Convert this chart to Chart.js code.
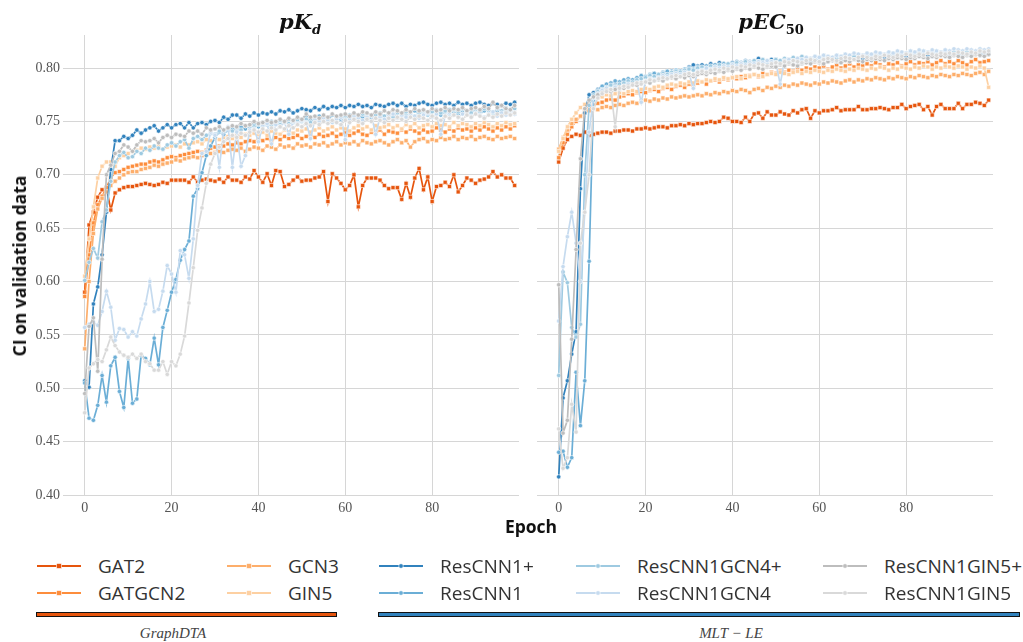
<!DOCTYPE html>
<html><head><meta charset="utf-8">
<script src="https://cdn.jsdelivr.net/npm/chart.js@4.4.1/dist/chart.umd.min.js"></script>
<style>
body{margin:0;width:1023px;height:642px;background:#fff;position:relative;overflow:hidden;font-family:"Open Sans",sans-serif}
.abs{position:absolute}
.ttl{font:bold italic 21px "DejaVu Serif",serif;color:#111;white-space:nowrap;transform:translateX(-50%)}
.ttl sub{font-size:13px}
.leg{position:absolute;display:flex;align-items:center;font-size:19px;color:#333;white-space:nowrap;height:24px}
.grp{position:absolute;font:italic 15px "Liberation Serif",serif;color:#444;transform:translateX(-50%);white-space:nowrap}
</style></head><body>
<canvas id="c1" class="abs" width="530" height="530" style="left:0;top:0"></canvas>
<canvas id="c2" class="abs" width="480" height="530" style="left:527px;top:0"></canvas>
<div class="abs ttl" style="left:300px;top:9px">pK<sub>d</sub></div>
<div class="abs ttl" style="left:771px;top:9px">pEC<sub style="font-style:normal">50</sub></div>
<div class="abs" style="left:19px;top:266px;transform:translate(-50%,-50%) rotate(-90deg);font:bold 17.5px 'Open Sans';color:#111;white-space:nowrap">CI on validation data</div>
<div class="abs" style="left:531px;top:526px;transform:translate(-50%,-50%);font:bold 17.5px 'Open Sans';color:#111">Epoch</div>
<div id="legend"></div>
<div class="abs" style="left:36px;top:612px;width:299px;height:3px;background:#e6550d;border:1px solid #111"></div>
<div class="abs" style="left:378px;top:612px;width:640px;height:3px;background:#3182bd;border:1px solid #111"></div>
<div class="grp" style="left:173px;top:625px">GraphDTA</div>
<div class="grp" style="left:731px;top:625px">MLT − LE</div>
<script>
const EPOCHS = Array.from({length:100},(_,i)=>i);
const SERIES = ["GAT2","GATGCN2","GCN3","GIN5","ResCNN1+","ResCNN1","ResCNN1GCN4+","ResCNN1GCN4","ResCNN1GIN5+","ResCNN1GIN5"];
const COLORS = ["#e6550d","#fd8d3c","#fdae6b","#fdd0a2","#3182bd","#6baed6","#9ecae1","#c6dbef","#bdbdbd","#d9d9d9"];
const MARKERS = ["rect","rect","rect","rect","circle","circle","circle","circle","circle","circle"];
const Y_TICKS = [0.40,0.45,0.50,0.55,0.60,0.65,0.70,0.75,0.80];
const X_TICKS = [0,20,40,60,80];

// ---- pKd ----
const PKD_GAT2 = [0.590,0.653,0.665,0.679,0.686,0.688,0.667,0.683,0.686,0.688,
0.689,0.689,0.690,0.691,0.692,0.691,0.690,0.691,0.693,0.692,
0.695,0.695,0.695,0.695,0.693,0.698,0.693,0.695,0.696,0.695,
0.694,0.696,0.693,0.698,0.695,0.695,0.693,0.698,0.696,0.704,
0.698,0.693,0.701,0.690,0.704,0.703,0.689,0.691,0.695,0.698,
0.694,0.695,0.695,0.697,0.698,0.703,0.675,0.701,0.697,0.692,
0.686,0.690,0.700,0.670,0.690,0.697,0.697,0.697,0.695,0.690,
0.687,0.688,0.688,0.677,0.692,0.679,0.697,0.706,0.686,0.698,
0.675,0.689,0.690,0.693,0.689,0.700,0.684,0.690,0.697,0.695,
0.692,0.695,0.696,0.698,0.703,0.698,0.700,0.697,0.697,0.690];
const PKD_GATGCN2 = [0.586,0.625,0.655,0.672,0.680,0.688,0.697,0.702,0.703,0.705,
0.707,0.708,0.709,0.710,0.710,0.712,0.713,0.712,0.714,0.716,
0.717,0.716,0.718,0.719,0.720,0.721,0.722,0.721,0.723,0.725,
0.726,0.727,0.727,0.729,0.728,0.730,0.729,0.731,0.732,0.731,
0.733,0.732,0.734,0.731,0.735,0.733,0.736,0.734,0.735,0.737,
0.734,0.736,0.737,0.735,0.738,0.736,0.737,0.739,0.736,0.738,
0.740,0.737,0.739,0.741,0.738,0.737,0.740,0.739,0.742,0.738,
0.741,0.740,0.739,0.742,0.740,0.743,0.741,0.739,0.742,0.740,
0.741,0.744,0.742,0.740,0.743,0.741,0.744,0.742,0.743,0.741,
0.744,0.742,0.745,0.743,0.741,0.744,0.742,0.745,0.743,0.746];
const PKD_GCN3 = [0.537,0.600,0.645,0.668,0.678,0.684,0.690,0.694,0.697,0.700,
0.702,0.703,0.703,0.705,0.706,0.707,0.709,0.708,0.710,0.711,
0.712,0.714,0.713,0.715,0.716,0.717,0.716,0.718,0.719,0.720,
0.721,0.722,0.721,0.723,0.724,0.723,0.725,0.722,0.724,0.726,
0.725,0.723,0.727,0.726,0.724,0.728,0.726,0.727,0.725,0.729,
0.727,0.728,0.726,0.729,0.728,0.730,0.727,0.729,0.731,0.728,
0.730,0.729,0.731,0.728,0.732,0.730,0.729,0.731,0.732,0.730,
0.728,0.731,0.733,0.730,0.732,0.726,0.731,0.733,0.734,0.731,
0.733,0.732,0.735,0.733,0.734,0.736,0.733,0.735,0.734,0.736,
0.733,0.735,0.736,0.734,0.733,0.736,0.734,0.735,0.736,0.734];
const PKD_GIN5 = [0.605,0.640,0.670,0.697,0.708,0.712,0.712,0.708,0.716,0.718,
0.720,0.722,0.723,0.725,0.724,0.726,0.725,0.727,0.724,0.726,
0.727,0.728,0.726,0.729,0.728,0.730,0.731,0.729,0.733,0.732,
0.734,0.733,0.735,0.736,0.734,0.737,0.735,0.738,0.737,0.739,
0.738,0.740,0.737,0.741,0.739,0.738,0.742,0.740,0.739,0.742,
0.741,0.743,0.740,0.742,0.744,0.741,0.743,0.745,0.742,0.744,
0.743,0.741,0.744,0.746,0.743,0.745,0.742,0.746,0.744,0.745,
0.747,0.744,0.746,0.743,0.747,0.745,0.748,0.744,0.746,0.747,
0.745,0.748,0.746,0.747,0.745,0.749,0.746,0.748,0.747,0.745,
0.748,0.746,0.749,0.747,0.745,0.748,0.746,0.749,0.747,0.748];
const PKD_RC = [0.507,0.501,0.579,0.595,0.625,0.665,0.705,0.732,0.732,0.736,
0.734,0.737,0.742,0.739,0.742,0.744,0.746,0.741,0.744,0.747,
0.744,0.747,0.748,0.744,0.749,0.744,0.748,0.749,0.747,0.750,
0.751,0.749,0.754,0.752,0.756,0.756,0.753,0.757,0.755,0.758,
0.756,0.758,0.757,0.759,0.757,0.760,0.759,0.761,0.758,0.760,
0.762,0.761,0.760,0.763,0.761,0.764,0.762,0.764,0.763,0.765,
0.763,0.765,0.764,0.766,0.764,0.765,0.763,0.766,0.765,0.764,
0.766,0.767,0.765,0.767,0.764,0.766,0.765,0.767,0.768,0.766,
0.765,0.767,0.768,0.766,0.767,0.765,0.768,0.766,0.767,0.765,
0.767,0.768,0.766,0.765,0.767,0.766,0.765,0.767,0.766,0.768];
const PKD_RC_NP = [0.505,0.472,0.470,0.484,0.512,0.487,0.521,0.529,0.497,0.482,
0.528,0.486,0.490,0.531,0.528,0.522,0.547,0.522,0.557,0.573,
0.590,0.602,0.620,0.630,0.638,0.680,0.687,0.702,0.718,0.727,
0.735,0.740,0.738,0.742,0.744,0.741,0.745,0.743,0.746,0.748,
0.745,0.749,0.747,0.750,0.748,0.751,0.749,0.752,0.750,0.753,
0.751,0.754,0.752,0.750,0.755,0.753,0.751,0.756,0.754,0.752,
0.756,0.754,0.757,0.755,0.753,0.757,0.755,0.758,0.756,0.754,
0.758,0.756,0.759,0.757,0.755,0.758,0.760,0.757,0.759,0.756,
0.760,0.758,0.756,0.759,0.761,0.758,0.757,0.760,0.758,0.761,
0.759,0.757,0.760,0.762,0.758,0.760,0.756,0.759,0.761,0.757];
const PKD_RC_GCN4P = [0.601,0.618,0.631,0.622,0.656,0.667,0.694,0.712,0.718,0.721,
0.716,0.717,0.722,0.720,0.725,0.723,0.727,0.725,0.724,0.728,
0.730,0.727,0.731,0.733,0.725,0.734,0.736,0.733,0.737,0.739,
0.738,0.741,0.740,0.743,0.741,0.744,0.742,0.746,0.744,0.745,
0.747,0.745,0.748,0.746,0.749,0.747,0.750,0.748,0.749,0.751,
0.750,0.752,0.749,0.753,0.751,0.754,0.752,0.750,0.753,0.755,
0.752,0.756,0.754,0.752,0.757,0.755,0.753,0.756,0.758,0.755,
0.757,0.754,0.758,0.756,0.759,0.757,0.755,0.758,0.760,0.757,
0.759,0.761,0.758,0.760,0.757,0.761,0.759,0.762,0.760,0.758,
0.761,0.759,0.762,0.760,0.758,0.762,0.760,0.763,0.761,0.762];
const PKD_RC_GCN4 = [0.557,0.560,0.562,0.559,0.572,0.591,0.576,0.545,0.556,0.555,
0.548,0.553,0.549,0.565,0.579,0.600,0.572,0.574,0.591,0.615,
0.607,0.590,0.629,0.625,0.603,0.640,0.690,0.720,0.722,0.740,
0.737,0.707,0.742,0.745,0.707,0.740,0.708,0.718,0.742,0.743,
0.731,0.746,0.748,0.729,0.747,0.745,0.749,0.738,0.750,0.748,
0.751,0.749,0.734,0.752,0.750,0.753,0.751,0.749,0.752,0.754,
0.733,0.752,0.755,0.753,0.751,0.754,0.756,0.738,0.754,0.752,
0.755,0.757,0.753,0.756,0.754,0.757,0.755,0.753,0.756,0.758,
0.754,0.757,0.738,0.755,0.758,0.756,0.754,0.757,0.759,0.755,
0.758,0.756,0.754,0.757,0.759,0.755,0.758,0.756,0.760,0.757];
const PKD_RC_GIN5P = [0.495,0.558,0.566,0.516,0.621,0.700,0.709,0.720,0.722,0.728,
0.726,0.722,0.728,0.732,0.731,0.732,0.734,0.730,0.735,0.737,
0.735,0.738,0.737,0.736,0.741,0.739,0.741,0.738,0.744,0.742,
0.743,0.745,0.742,0.744,0.746,0.745,0.748,0.746,0.747,0.750,
0.748,0.749,0.751,0.749,0.750,0.752,0.750,0.753,0.751,0.754,
0.752,0.757,0.754,0.755,0.753,0.756,0.754,0.757,0.755,0.756,
0.757,0.755,0.758,0.756,0.759,0.758,0.756,0.759,0.757,0.760,
0.758,0.761,0.760,0.758,0.761,0.759,0.762,0.760,0.761,0.759,
0.762,0.760,0.761,0.763,0.760,0.762,0.761,0.763,0.760,0.762,
0.763,0.761,0.764,0.762,0.768,0.763,0.765,0.762,0.761,0.765];
const PKD_RC_GIN5 = [0.477,0.519,0.523,0.527,0.525,0.536,0.548,0.540,0.534,0.531,
0.529,0.532,0.528,0.532,0.525,0.523,0.517,0.517,0.525,0.513,
0.525,0.521,0.532,0.549,0.580,0.613,0.648,0.669,0.692,0.710,
0.720,0.726,0.731,0.734,0.737,0.735,0.739,0.737,0.740,0.742,
0.740,0.743,0.741,0.744,0.742,0.745,0.743,0.746,0.744,0.747,
0.745,0.748,0.746,0.749,0.747,0.750,0.748,0.751,0.749,0.747,
0.751,0.749,0.752,0.750,0.748,0.752,0.750,0.753,0.751,0.749,
0.753,0.751,0.754,0.752,0.750,0.754,0.752,0.755,0.753,0.751,
0.755,0.753,0.751,0.755,0.753,0.756,0.754,0.752,0.756,0.754,
0.757,0.755,0.753,0.756,0.754,0.757,0.755,0.758,0.756,0.758];

// ---- pEC50 ----
const PEC_GAT2 = [0.712,0.725,0.733,0.736,0.738,0.737,0.740,0.737,0.738,0.739,
0.740,0.740,0.739,0.741,0.741,0.742,0.742,0.741,0.743,0.743,
0.744,0.743,0.744,0.745,0.745,0.744,0.746,0.746,0.747,0.746,
0.748,0.747,0.748,0.748,0.749,0.750,0.749,0.750,0.754,0.753,
0.750,0.750,0.749,0.754,0.750,0.757,0.758,0.753,0.759,0.756,
0.756,0.759,0.757,0.756,0.760,0.758,0.761,0.762,0.753,0.760,
0.758,0.760,0.760,0.761,0.763,0.760,0.761,0.761,0.761,0.764,
0.761,0.761,0.762,0.762,0.763,0.762,0.761,0.763,0.763,0.766,
0.762,0.764,0.765,0.766,0.761,0.764,0.756,0.764,0.766,0.762,
0.762,0.762,0.767,0.762,0.766,0.766,0.768,0.767,0.765,0.770];
const PEC_GATGCN2 = [0.716,0.730,0.738,0.745,0.750,0.755,0.759,0.763,0.765,0.767,
0.768,0.770,0.771,0.770,0.773,0.774,0.776,0.775,0.777,0.778,
0.777,0.779,0.780,0.778,0.781,0.782,0.780,0.783,0.784,0.782,
0.785,0.784,0.786,0.787,0.785,0.788,0.789,0.787,0.790,0.789,
0.791,0.790,0.792,0.791,0.793,0.794,0.792,0.795,0.794,0.796,
0.795,0.797,0.796,0.798,0.797,0.799,0.798,0.800,0.799,0.801,
0.800,0.802,0.799,0.801,0.803,0.800,0.802,0.804,0.801,0.803,
0.802,0.804,0.802,0.805,0.803,0.801,0.804,0.803,0.805,0.802,
0.804,0.806,0.803,0.805,0.804,0.806,0.803,0.805,0.807,0.804,
0.806,0.804,0.807,0.805,0.803,0.806,0.808,0.805,0.806,0.807];
const PEC_GCN3 = [0.724,0.735,0.742,0.748,0.752,0.755,0.758,0.760,0.762,0.761,
0.763,0.764,0.763,0.765,0.766,0.765,0.767,0.768,0.767,0.769,
0.770,0.769,0.771,0.770,0.772,0.771,0.773,0.772,0.773,0.774,
0.773,0.774,0.775,0.774,0.776,0.775,0.777,0.776,0.778,0.777,
0.779,0.778,0.780,0.779,0.777,0.780,0.781,0.779,0.782,0.781,
0.783,0.782,0.784,0.783,0.785,0.784,0.786,0.785,0.784,0.786,
0.785,0.787,0.786,0.788,0.787,0.786,0.788,0.789,0.787,0.789,
0.788,0.790,0.789,0.791,0.790,0.789,0.791,0.790,0.792,0.791,
0.790,0.792,0.791,0.793,0.792,0.791,0.793,0.792,0.794,0.793,
0.792,0.794,0.793,0.795,0.794,0.793,0.795,0.796,0.794,0.797];
const PEC_GIN5 = [0.722,0.734,0.745,0.752,0.758,0.763,0.766,0.768,0.770,0.772,
0.773,0.775,0.774,0.776,0.777,0.776,0.778,0.779,0.778,0.780,
0.781,0.780,0.782,0.783,0.782,0.784,0.785,0.784,0.786,0.785,
0.787,0.786,0.788,0.787,0.789,0.788,0.790,0.789,0.791,0.790,
0.791,0.792,0.790,0.793,0.792,0.794,0.793,0.792,0.794,0.795,
0.794,0.796,0.795,0.794,0.796,0.797,0.795,0.797,0.796,0.798,
0.797,0.796,0.798,0.797,0.799,0.798,0.797,0.799,0.798,0.800,
0.799,0.798,0.800,0.799,0.801,0.800,0.798,0.800,0.799,0.801,
0.800,0.799,0.801,0.800,0.802,0.801,0.799,0.801,0.800,0.802,
0.801,0.800,0.802,0.801,0.799,0.801,0.800,0.802,0.800,0.782];
const PEC_RC = [0.417,0.491,0.507,0.532,0.553,0.687,0.758,0.775,0.777,0.780,
0.782,0.784,0.785,0.784,0.787,0.788,0.787,0.789,0.790,0.791,
0.792,0.793,0.795,0.794,0.796,0.795,0.797,0.798,0.797,0.799,
0.801,0.803,0.802,0.803,0.802,0.804,0.803,0.805,0.804,0.803,
0.805,0.806,0.805,0.807,0.806,0.805,0.809,0.807,0.806,0.808,
0.805,0.807,0.806,0.805,0.807,0.806,0.808,0.807,0.806,0.808,
0.807,0.809,0.808,0.807,0.809,0.808,0.810,0.809,0.808,0.810,
0.809,0.811,0.810,0.809,0.811,0.810,0.812,0.811,0.810,0.812,
0.811,0.810,0.812,0.811,0.813,0.812,0.811,0.813,0.812,0.811,
0.813,0.812,0.814,0.813,0.812,0.814,0.813,0.812,0.814,0.813];
const PEC_RC_NP = [0.440,0.441,0.426,0.435,0.515,0.465,0.507,0.619,0.770,0.779,
0.783,0.785,0.786,0.788,0.787,0.789,0.790,0.789,0.791,0.793,
0.792,0.794,0.795,0.794,0.796,0.797,0.796,0.798,0.797,0.799,
0.800,0.799,0.801,0.800,0.802,0.801,0.803,0.802,0.804,0.803,
0.804,0.805,0.804,0.806,0.805,0.807,0.806,0.805,0.807,0.806,
0.808,0.807,0.806,0.808,0.807,0.809,0.808,0.807,0.809,0.808,
0.810,0.809,0.808,0.810,0.809,0.811,0.810,0.809,0.811,0.810,
0.812,0.811,0.810,0.812,0.811,0.813,0.812,0.811,0.813,0.812,
0.814,0.813,0.812,0.814,0.813,0.815,0.814,0.813,0.815,0.814,
0.815,0.814,0.813,0.815,0.814,0.816,0.815,0.814,0.816,0.815];
const PEC_RC_GCN4P = [0.512,0.609,0.599,0.557,0.548,0.560,0.700,0.765,0.775,0.778,
0.780,0.782,0.784,0.783,0.785,0.786,0.788,0.787,0.789,0.790,
0.791,0.793,0.792,0.794,0.795,0.794,0.796,0.797,0.796,0.798,
0.799,0.798,0.800,0.801,0.800,0.802,0.801,0.803,0.802,0.804,
0.803,0.805,0.804,0.806,0.805,0.807,0.806,0.808,0.807,0.806,
0.808,0.807,0.809,0.808,0.810,0.809,0.811,0.810,0.809,0.811,
0.810,0.812,0.811,0.810,0.812,0.811,0.813,0.812,0.811,0.813,
0.812,0.814,0.813,0.812,0.814,0.813,0.815,0.814,0.813,0.815,
0.814,0.816,0.815,0.814,0.816,0.815,0.814,0.816,0.815,0.817,
0.816,0.815,0.817,0.816,0.815,0.817,0.816,0.818,0.817,0.816];
const PEC_RC_GCN4 = [0.563,0.614,0.642,0.665,0.636,0.600,0.665,0.740,0.772,0.776,
0.779,0.781,0.780,0.782,0.780,0.783,0.785,0.784,0.786,0.768,
0.788,0.790,0.789,0.791,0.793,0.792,0.794,0.795,0.794,0.796,
0.795,0.781,0.797,0.798,0.800,0.799,0.801,0.800,0.802,0.801,
0.803,0.802,0.804,0.803,0.805,0.804,0.806,0.805,0.807,0.806,
0.805,0.785,0.807,0.808,0.807,0.809,0.808,0.810,0.809,0.811,
0.810,0.812,0.811,0.810,0.812,0.811,0.813,0.812,0.814,0.813,
0.812,0.814,0.813,0.815,0.814,0.813,0.815,0.814,0.816,0.815,
0.814,0.816,0.815,0.817,0.816,0.815,0.817,0.816,0.815,0.817,
0.816,0.818,0.817,0.816,0.818,0.817,0.816,0.818,0.817,0.818];
const PEC_RC_GIN5P = [0.597,0.458,0.470,0.546,0.630,0.715,0.762,0.770,0.773,0.775,
0.777,0.779,0.778,0.780,0.782,0.781,0.783,0.785,0.784,0.786,
0.787,0.786,0.788,0.789,0.788,0.790,0.791,0.790,0.792,0.791,
0.793,0.792,0.794,0.795,0.794,0.796,0.795,0.797,0.796,0.798,
0.797,0.799,0.798,0.800,0.799,0.801,0.800,0.799,0.801,0.802,
0.801,0.803,0.802,0.804,0.803,0.802,0.804,0.805,0.804,0.806,
0.805,0.804,0.806,0.807,0.806,0.805,0.807,0.806,0.808,0.807,
0.806,0.808,0.807,0.809,0.808,0.807,0.809,0.808,0.810,0.809,
0.808,0.810,0.809,0.811,0.810,0.809,0.811,0.810,0.812,0.811,
0.810,0.812,0.811,0.810,0.812,0.811,0.813,0.812,0.811,0.813];
const PEC_RC_GIN5 = [0.462,0.425,0.435,0.485,0.459,0.636,0.665,0.700,0.762,0.772,
0.776,0.778,0.780,0.745,0.781,0.783,0.782,0.784,0.786,0.785,
0.787,0.789,0.788,0.790,0.791,0.790,0.792,0.793,0.792,0.794,
0.795,0.794,0.796,0.797,0.796,0.798,0.799,0.798,0.800,0.799,
0.801,0.800,0.802,0.801,0.803,0.802,0.804,0.803,0.802,0.804,
0.805,0.804,0.806,0.805,0.807,0.806,0.805,0.807,0.808,0.807,
0.806,0.808,0.809,0.808,0.807,0.809,0.810,0.809,0.808,0.810,
0.811,0.810,0.809,0.811,0.810,0.812,0.811,0.810,0.812,0.811,
0.813,0.812,0.811,0.813,0.812,0.814,0.813,0.812,0.814,0.813,
0.814,0.813,0.815,0.814,0.813,0.815,0.814,0.816,0.815,0.816];

const PKD = [PKD_GAT2,PKD_GATGCN2,PKD_GCN3,PKD_GIN5,PKD_RC,PKD_RC_NP,PKD_RC_GCN4P,PKD_RC_GCN4,PKD_RC_GIN5P,PKD_RC_GIN5];
const PEC50 = [PEC_GAT2,PEC_GATGCN2,PEC_GCN3,PEC_GIN5,PEC_RC,PEC_RC_NP,PEC_RC_GCN4P,PEC_RC_GCN4,PEC_RC_GIN5P,PEC_RC_GIN5];

const TICK_FONT = {family:"'Liberation Serif', 'DejaVu Serif', serif", size:14};
const GRID = '#d6d6d6';

function makeChart(id, values, showY, padRight){
  const datasets = values.map((arr, k) => ({
    label: SERIES[k],
    data: arr.map((v, i) => ({x: EPOCHS[i], y: v})),
    borderColor: COLORS[k],
    backgroundColor: COLORS[k],
    borderWidth: 1.7,
    pointStyle: MARKERS[k],
    pointRadius: MARKERS[k] === 'rect' ? 2.9 : 2.2,
    pointBackgroundColor: COLORS[k],
    pointBorderColor: '#ffffff',
    pointBorderWidth: 0.6,
    tension: 0,
    order: SERIES.length - k
  }));
  return new Chart(document.getElementById(id), {
    type: 'line',
    data: {datasets},
    options: {
      responsive: false, animation: false, devicePixelRatio: 1,
      events: [],
      layout: {padding: {top: 35, right: padRight, bottom: 0, left: 0}},
      plugins: {legend: {display: false}, tooltip: {enabled: false}},
      scales: {
        x: {
          type: 'linear', min: -5, max: 100,
          afterBuildTicks: s => { s.ticks = X_TICKS.map(v => ({value: v})); },
          afterFit: s => { s.height = 35; },
          grid: {color: GRID, lineWidth: 1, drawTicks: false},
          border: {display: false},
          ticks: {font: TICK_FONT, color: '#555', padding: 5, maxRotation: 0, callback: v => String(v)}
        },
        y: {
          type: 'linear', min: 0.40, max: 0.831,
          afterBuildTicks: s => { s.ticks = Y_TICKS.map(v => ({value: v})); },
          afterFit: s => { s.width = showY ? 63 : 10; },
          grid: {color: GRID, lineWidth: 1, drawTicks: false},
          border: {display: false},
          ticks: {display: showY, font: TICK_FONT, color: '#555', padding: 3, callback: v => Number(v).toFixed(2)}
        }
      }
    }
  });
}
makeChart('c1', PKD, true, 11);
makeChart('c2', PEC50, false, 14);

// legend
const LEG_X = [37, 227, 379, 576, 823];
const LEG_Y = [566, 593];
const leg = document.getElementById('legend');
SERIES.forEach((name, k) => {
  const col = Math.floor(k / 2), row = k % 2;
  const c = COLORS[k];
  const mk = MARKERS[k] === 'rect'
    ? `<rect x="19.5" y="2.5" width="5" height="5" fill="${c}" stroke="#fff" stroke-width="0.6"/>`
    : `<circle cx="22" cy="5" r="2.3" fill="${c}" stroke="#fff" stroke-width="0.6"/>`;
  const d = document.createElement('div');
  d.className = 'leg';
  d.style.left = LEG_X[col] + 'px';
  d.style.top = (LEG_Y[row] - 12) + 'px';
  d.innerHTML = `<svg width="44" height="10" style="margin-right:17px"><line x1="0" y1="5" x2="44" y2="5" stroke="${c}" stroke-width="2"/>${mk}</svg><span>${name}</span>`;
  leg.appendChild(d);
});
</script>
</body></html>
